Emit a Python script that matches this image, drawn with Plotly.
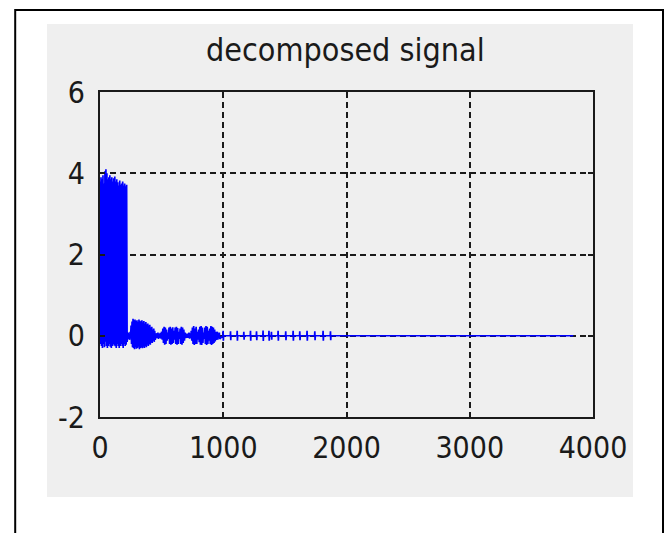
import plotly.graph_objects as go

# Decomposed signal, described as bursts of oscillation: each burst has a
# start time, a half-period step and the upper/lower swing of every cycle.
burst_starts = [0, 228, 252, 460, 500, 712, 740, 952]
burst_steps = [4, 4, 4, 5, 5, 5, 5, 4]
burst_upper = [
    [3.8, 3.9, 3.85, 3.95, 3.75, 4.05, 4.1, 4.0, 3.85, 3.9, 3.95, 3.85, 3.9, 3.8,
     3.88, 3.92, 3.8, 3.85, 3.78, 3.7, 3.82, 3.72, 3.75, 3.8, 3.7, 3.75, 3.68, 3.72],
    [0.08, 0.05, 0.1],
    [0.25, 0.35, 0.42, 0.38, 0.4, 0.36, 0.38, 0.34, 0.4, 0.37, 0.35, 0.38, 0.33,
     0.36, 0.3, 0.34, 0.28, 0.3, 0.25, 0.27, 0.2, 0.22, 0.15, 0.18, 0.12],
    [0.06, 0.08, 0.05, 0.07],
    [0.1, 0.18, 0.22, 0.2, 0.15, 0.08, 0.2, 0.22, 0.18, 0.21, 0.12, 0.2, 0.22,
     0.19, 0.1, 0.18, 0.22, 0.2, 0.15, 0.08, 0.05],
    [0.05, 0.08, 0.06],
    [0.12, 0.2, 0.24, 0.18, 0.22, 0.1, 0.15, 0.22, 0.24, 0.2, 0.08, 0.2, 0.24,
     0.22, 0.12, 0.18, 0.24, 0.22, 0.2, 0.15, 0.1],
    [0.1, 0.06, 0.08],
]
burst_lower = [
    [-0.2, -0.25, -0.3, -0.2, -0.28, -0.15, -0.25, -0.3, -0.25, -0.2, -0.27, -0.3,
     -0.25, -0.2, -0.24, -0.26, -0.3, -0.2, -0.25, -0.3, -0.25, -0.2, -0.25, -0.3,
     -0.2, -0.25, -0.22, -0.15],
    [-0.08, -0.1, -0.05],
    [-0.2, -0.28, -0.3, -0.33, -0.28, -0.32, -0.3, -0.27, -0.33, -0.3, -0.28, -0.31,
     -0.27, -0.3, -0.25, -0.28, -0.22, -0.25, -0.2, -0.22, -0.17, -0.18, -0.12,
     -0.15, -0.1],
    [-0.06, -0.08, -0.05, -0.07],
    [-0.1, -0.18, -0.22, -0.2, -0.12, -0.08, -0.2, -0.22, -0.2, -0.18, -0.1, -0.2,
     -0.22, -0.2, -0.08, -0.2, -0.22, -0.18, -0.12, -0.06, -0.05],
    [-0.05, -0.07, -0.06],
    [-0.12, -0.2, -0.23, -0.2, -0.2, -0.1, -0.16, -0.22, -0.23, -0.18, -0.08, -0.2,
     -0.23, -0.2, -0.12, -0.2, -0.23, -0.2, -0.18, -0.14, -0.1],
    [-0.1, -0.06, -0.08],
]

# Isolated short bursts after t = 1000
spike_times = [1000, 1060, 1114, 1168, 1222, 1271, 1324, 1372, 1392, 1446,
               1508, 1568, 1622, 1681, 1744, 1811, 1871]
spike_heights = [0.12, 0.11, 0.12, 0.1, 0.12, 0.11, 0.13, 0.12, 0.1, 0.12,
                 0.11, 0.12, 0.11, 0.12, 0.11, 0.12, 0.11]

signal_end = 3840

x_ticks = [0, 1000, 2000, 3000, 4000]
y_ticks = [-2, 0, 2, 4, 6]

t, v = [], []
for start, step, up, lo in zip(burst_starts, burst_steps, burst_upper, burst_lower):
    for i, (hi, low) in enumerate(zip(up, lo)):
        t += [start + 2 * i * step, start + (2 * i + 1) * step]
        v += [hi, low]
for st, h in zip(spike_times, spike_heights):
    t += [st - 3, st - 1, st + 1, st + 3]
    v += [0, h, -h, 0]
t += [signal_end]
v += [0]

fig = go.Figure()
fig.add_trace(go.Scatter(x=t, y=v, mode="lines",
                         line=dict(color="#0000ff", width=1.7),
                         hoverinfo="skip", showlegend=False))

FONT = "DejaVu Sans Condensed, Liberation Sans, sans-serif"

axis_common = dict(
    showline=True, linewidth=2, linecolor="#1a1a1a", mirror="ticks",
    ticks="inside", ticklen=5, tickwidth=2, tickcolor="#1a1a1a",
    showgrid=True, gridcolor="#1a1a1a", gridwidth=2, griddash="6px,4px",
    zeroline=False, tickfont=dict(family=FONT, size=30, color="#1a1a1a"),
)

fig.update_xaxes(range=[0, 4000], tickvals=x_ticks, ticktext=[str(x) for x in x_ticks],
                 ticklabelstandoff=3, **axis_common)
fig.update_yaxes(range=[-2, 6], tickvals=y_ticks, ticktext=[str(y) for y in y_ticks],
                 ticklabelstandoff=7, **axis_common)

# Figure panel and outer frame
fig.add_shape(type="rect", xref="paper", yref="paper", layer="below",
              x0=-0.1075, x1=1.0811, y0=-0.246, y1=1.209,
              fillcolor="#efefef", line=dict(width=0))
fig.add_shape(type="rect", xref="paper", yref="paper", layer="above",
              x0=-0.172, x1=1.142, y0=-0.6, y1=1.252,
              fillcolor="rgba(0,0,0,0)", line=dict(color="black", width=2))

fig.add_annotation(text="decomposed signal", xref="paper", yref="paper",
                   x=0.497, y=1.13, showarrow=False, xanchor="center", yanchor="middle",
                   font=dict(family=FONT, size=32, color="#1a1a1a"))

fig.update_layout(
    width=672, height=533,
    margin=dict(l=100, r=79, t=92, b=116),
    paper_bgcolor="white", plot_bgcolor="white",
)

fig.write_html("out.html")
